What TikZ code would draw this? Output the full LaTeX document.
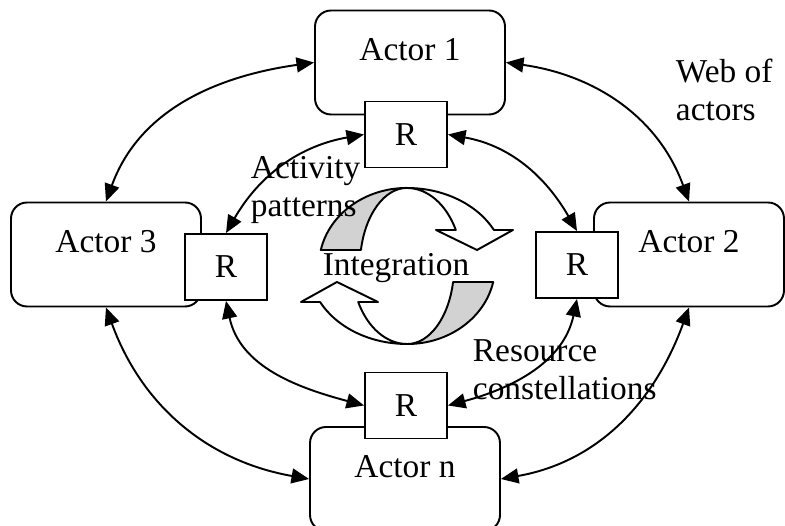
\documentclass[tikz,border=0pt]{standalone}
\usepackage{fontspec}
\setmainfont{Liberation Serif}
\usetikzlibrary{arrows.meta}

\begin{document}
\begin{tikzpicture}[x=0.02cm, y=0.02cm, line width=1.1pt,
		font=\fontsize{19}{21.5}\selectfont,
		actor/.style={draw, rounded corners=0.32cm, minimum width=3.8cm, minimum height=2.08cm, text height=0.5cm, text depth=0.56cm},
		res/.style={draw, fill=white, minimum width=1.64cm, minimum height=1.32cm},
		link/.style={{Triangle[length=10pt,width=8.5pt]}-{Triangle[length=10pt,width=8.5pt]}},
		lbl/.style={align=left, anchor=west, inner sep=0pt}]
			%Marco
			\useasboundingbox (0,0) rectangle (785,526);
			%Integracion
			\begin{scope}[shift={(407,260)}, line join=round]
				\foreach \r in {0,180}{
					\begin{scope}[rotate=\r]
						\filldraw[fill=gray!35] (-86.2,16) arc[start angle=168.2, end angle=90, x radius=88, y radius=78]
							arc[start angle=90, end angle=168.2, x radius=47, y radius=78] -- cycle;
						\filldraw[fill=white] (0,78) arc[start angle=90, end angle=27.5, x radius=98, y radius=78]
							-- (106,36) -- (70,16) -- (29,36) -- (48.8,36)
							arc[start angle=27.5, end angle=90, x radius=55, y radius=78] -- cycle;
					\end{scope}}
			\end{scope}
			%Actores
			\node[actor] (a1) at (410,463.5) {Actor 1};
			\node[actor] (a3) at (106,271.5) {Actor 3};
			\node[actor] (a2) at (689,271.5) {Actor 2};
			\node[actor] (an) at (405,47) {Actor n};
			%Recursos
			\node[res] (r1) at (406,391.5) {R};
			\node[res] (r3) at (226,259) {R};
			\node[res] (r2) at (577,261) {R};
			\node[res] (rn) at (406,120.5) {R};
			%Red de actores
			\draw[link] (a3.north) to[out=70, in=188] (a1.west);
			\draw[link] (a1.east) to[out=-8, in=110] (a2.north);
			\draw[link] (a3.south) to[out=-70, in=170] (an.west);
			\draw[link] (a2.south) to[out=-110, in=10] (an.east);
			%Red de recursos
			\draw[link] (r1.west) to[out=190, in=60] (r3.north);
			\draw[link] (r1.east) to[out=-10, in=120] (r2.north);
			\draw[link] (r3.south) to[out=-78, in=165] (rn.west);
			\draw[link] (r2.south) to[out=-102, in=15] (rn.east);
			%Textos
			\node[lbl] (web) at (675,436) {Web of\\actors};
			\node[lbl] (act) at (250,336) {Activity\\patterns};
			\node[lbl] (rsc) at (472,156) {Resource\\constellations};
			\node (int) at (396,258) {Integration};
		\end{tikzpicture}
\end{document}
